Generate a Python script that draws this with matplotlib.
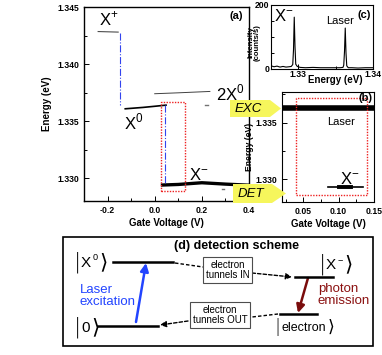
import matplotlib
matplotlib.use('Agg')
import matplotlib.pyplot as plt
from matplotlib.patches import Polygon, Rectangle, FancyArrowPatch
from matplotlib.ticker import MultipleLocator

plt.rcParams['font.family'] = ['Liberation Sans', 'DejaVu Sans']
plt.rcParams['mathtext.fontset'] = 'custom'
plt.rcParams['mathtext.rm'] = 'Liberation Sans'

# panel (a): gate voltage sweep, lines
xplus_v = [-0.24, -0.155]
xplus_e = [1.34285, 1.34280]
x0_v = [-0.125, -0.05, 0.0, 0.048]
x0_e = [1.33608, 1.33620, 1.33630, 1.33640]
xx_v = [0.0, 0.10, 0.234]
xx_e = [1.33740, 1.33748, 1.33760]
xminus_v = [0.033, 0.10, 0.20, 0.30, 0.405]
xminus_e = [1.32940, 1.32945, 1.32960, 1.32948, 1.32938]
step1_v = [-0.146, -0.146]
step1_e = [1.3427, 1.3364]
step2_v = [0.045, 0.045]
step2_e = [1.3364, 1.3296]
box_a_v = [0.026, 0.127]
box_a_e = [1.3289, 1.3367]
stray_v = [[0.215, 0.225], [0.285, 0.295]]
stray_e = [[1.33645, 1.33645], [1.32905, 1.32905]]

# panel (b): zoom on the detection window
laser_b_v = [0.02, 0.15]
laser_b_e = [1.3363, 1.3363]
xm_b_v = [0.085, 0.135]
xm_b_e = [1.3293, 1.3293]
xm_b_thick_v = [0.100, 0.118]
box_b_v = [0.040, 0.140]
box_b_e = [1.3286, 1.3372]

# panel (c): spectrum
spec_e = [1.3264, 1.3268, 1.3272, 1.3276, 1.3280, 1.3284, 1.3288, 1.3291, 1.3293,
          1.3294, 1.3295, 1.3296, 1.3297, 1.3299, 1.3303, 1.3310, 1.3320, 1.3330,
          1.3340, 1.3350, 1.3356, 1.3360, 1.3361, 1.3362, 1.3363, 1.3364, 1.3365,
          1.3367, 1.3372, 1.3380, 1.3390, 1.3400]
spec_i = [10, 7, 9, 6, 8, 6, 7, 8, 14, 60, 162, 70, 15, 8, 5, 4, 5, 4, 4, 4, 4, 5,
          12, 55, 128, 50, 10, 4, 4, 3, 4, 4]

fig = plt.figure(figsize=(3.82, 3.55), dpi=100)

tick_kw = dict(direction='in', labelsize=6.2, width=0.7)

# ---------- (a)
ax = fig.add_axes([84/382, 1-201/355, 165/382, 194/355])
ax.plot(xplus_v, xplus_e, color='0.3', lw=0.8)
ax.plot(x0_v, x0_e, color='k', lw=1.2)
ax.plot(xx_v, xx_e, color='0.25', lw=0.7)
ax.plot(xminus_v, xminus_e, color='k', lw=2.4)
for sv, se in zip(stray_v, stray_e):
    ax.plot(sv, se, color='0.45', lw=1.0)
ax.plot(step1_v, step1_e, color='#3344ee', lw=0.8, ls='-.')
ax.plot(step2_v, step2_e, color='#3344ee', lw=0.8, ls='-.')
ax.plot([box_a_v[0], box_a_v[1], box_a_v[1], box_a_v[0], box_a_v[0]],
        [box_a_e[0], box_a_e[0], box_a_e[1], box_a_e[1], box_a_e[0]],
        color='#ee2222', lw=1.0, ls=(0, (1, 1)))
ax.set_xlim(-0.3, 0.4)
ax.set_ylim(1.328, 1.345)
ax.xaxis.set_minor_locator(MultipleLocator(0.1))
ax.yaxis.set_minor_locator(MultipleLocator(0.0025))
ax.tick_params(which='both', **tick_kw)
ax.tick_params(which='minor', length=2)
ax.set_xticks([-0.2, 0.0, 0.2, 0.4])
ax.set_xticklabels(['-0.2', '0.0', '0.2', '0.4'], fontweight='bold')
ax.set_yticks([1.330, 1.335, 1.340, 1.345])
ax.set_yticklabels(['1.330', '1.335', '1.340', '1.345'], fontweight='bold')
ax.set_xlabel('Gate Voltage (V)', fontsize=7, fontweight='bold', labelpad=2)
ax.set_ylabel('Energy (eV)', fontsize=7, fontweight='bold', labelpad=4)
ax.text(-0.235, 1.3434, r'X$^{+}$', fontsize=12)
ax.text(-0.13, 1.3343, r'X$^{0}$', fontsize=12)
ax.text(0.26, 1.3368, r'2X$^{0}$', fontsize=12)
ax.text(0.145, 1.3298, r'X$^{-}$', fontsize=12)
ax.text(0.375, 1.3442, '(a)', fontsize=8, fontweight='bold', ha='right', va='center')
for s in ax.spines.values():
    s.set_linewidth(1.0)

# ---------- (c)
axc = fig.add_axes([271/382, 1-69/355, 102/382, 64/355])
axc.plot(spec_e, spec_i, color='k', lw=0.8)
axc.set_xlim(1.3264, 1.3400)
axc.set_ylim(0, 200)
axc.set_xticks([1.33, 1.34])
axc.set_xticklabels(['1.33', '1.34'], fontweight='bold')
axc.set_yticks([0, 200])
axc.set_yticklabels(['0', '200'], fontweight='bold')
axc.yaxis.set_minor_locator(MultipleLocator(50))
axc.xaxis.set_minor_locator(MultipleLocator(0.005))
axc.tick_params(which='both', **tick_kw)
axc.tick_params(which='minor', length=2)
axc.tick_params(axis='x', pad=1)
axc.tick_params(axis='y', pad=1)
axc.set_ylabel('Intensity\n(counts/s)', fontsize=5.6, fontweight='bold', linespacing=0.9)
axc.yaxis.set_label_coords(-0.10, 0.42)
axc.text(1.3350, -33, 'Energy (eV)', fontsize=7, fontweight='bold', ha='center', va='center')
axc.text(1.3268, 150, r'X$^{-}$', fontsize=12)
axc.text(1.3337, 142, 'Laser', fontsize=8)
axc.text(1.3397, 185, '(c)', fontsize=8, fontweight='bold', ha='right', va='top')

# ---------- (b)
axb = fig.add_axes([282/382, 1-202/355, 92/382, 110/355])
axb.plot(laser_b_v, laser_b_e, color='k', lw=4, solid_capstyle='butt')
axb.plot(xm_b_v, xm_b_e, color='k', lw=1.2)
axb.plot(xm_b_thick_v, xm_b_e, color='k', lw=2.8)
axb.plot([box_b_v[0], box_b_v[1], box_b_v[1], box_b_v[0], box_b_v[0]],
         [box_b_e[0], box_b_e[0], box_b_e[1], box_b_e[1], box_b_e[0]],
         color='#ee2222', lw=1.0, ls=(0, (1, 1)))
axb.set_xlim(0.02, 0.15)
axb.set_ylim(1.328, 1.3377)
axb.set_xticks([0.05, 0.10, 0.15])
axb.set_xticklabels(['0.05', '0.10', '0.15'], fontweight='bold')
axb.set_yticks([1.330, 1.335])
axb.set_yticklabels(['1.330', '1.335'], fontweight='bold')
axb.xaxis.set_minor_locator(MultipleLocator(0.025))
axb.yaxis.set_minor_locator(MultipleLocator(0.0025))
axb.tick_params(which='both', **tick_kw)
axb.tick_params(which='minor', length=2)
axb.set_xlabel('Gate Voltage (V)', fontsize=7, fontweight='bold', labelpad=2)
axb.set_ylabel('Energy (eV)', fontsize=6.2, fontweight='bold', labelpad=1)
axb.text(0.084, 1.3348, 'Laser', fontsize=8)
axb.text(0.102, 1.3296, r'X$^{-}$', fontsize=12)
axb.text(0.148, 1.3376, '(b)', fontsize=8, fontweight='bold', ha='right', va='top')

# ---------- overlay (yellow tags + scheme (d)), pixel coordinates
ov = fig.add_axes([0, 0, 1, 1], zorder=10)
ov.set_xlim(0, 382)
ov.set_ylim(355, 0)
ov.axis('off')
ov.patch.set_alpha(0)

yellow = '#f6f65c'
ov.add_patch(Polygon([[230, 100], [270, 100], [281, 108.5], [270, 117], [230, 117]],
                     closed=True, fc=yellow, ec='none'))
ov.text(235, 109, 'EXC', fontsize=9.5, style='italic', va='center')
ov.add_patch(Polygon([[233, 184], [272, 184], [286, 193.5], [272, 203], [233, 203]],
                     closed=True, fc=yellow, ec='none'))
ov.text(238, 194, 'DET', fontsize=9.5, style='italic', va='center')

# scheme frame
ov.add_patch(Rectangle((63, 237), 310, 109, fc='none', ec='k', lw=1.2))
ov.text(236, 246, '(d) detection scheme', fontsize=9, fontweight='bold', ha='center', va='center')

# levels
lev_x0 = [113, 173, 262]
lev_0 = [98, 158, 326]
lev_xm = [295, 333, 277]
lev_el = [280, 317, 314]
for lv in [lev_x0, lev_0, lev_xm, lev_el]:
    ov.plot([lv[0], lv[1]], [lv[2], lv[2]], color='k', lw=1.8)


def ket(xl, yc, label, w, size=11, sup=None):
    # tall bar, label, tall angle bracket
    ov.text(xl, yc, '|', fontsize=size * 1.4, ha='center', va='center',
            family='DejaVu Sans', fontweight='light')
    ov.text(xl + 4, yc + 1, label, fontsize=size, ha='left', va='center')
    end = xl + 4 + w
    if sup is not None:
        ov.text(end + 1.5, yc - 4, sup, fontsize=size * 0.6, ha='left', va='center')
        end += 7
    ov.text(end + 5, yc, '\u27e9', fontsize=size * 1.4, ha='center', va='center',
            family='DejaVu Sans')


ket(77, 262, 'X', 10, sup='0')
ket(77, 327, '0', 9)
ket(322, 264, 'X', 10, sup='\u2212')
ket(277, 327, 'electron', 45, size=9)

# laser excitation arrow
ov.add_patch(FancyArrowPatch((136, 322), (146, 263), arrowstyle='-|>', mutation_scale=12,
                             color='#2244ff', lw=1.8, shrinkA=0, shrinkB=0))
ov.text(80, 296, 'Laser\nexcitation', fontsize=9.5, color='#2244ff', va='center', linespacing=1.1)

# photon emission arrow
ov.add_patch(FancyArrowPatch((308, 278), (298, 313), arrowstyle='-|>', mutation_scale=12,
                             color='#7a0c0c', lw=1.8, shrinkA=0, shrinkB=0))
ov.text(318, 295, 'photon\nemission', fontsize=9.5, color='#8b1010', va='center', linespacing=1.1)

# tunnelling arrows
ov.plot([175, 203], [263, 267], color='k', lw=1.0, ls=(0, (2.5, 1.5)))
ov.add_patch(FancyArrowPatch((252, 273), (292, 277), arrowstyle='-|>', mutation_scale=9,
                             color='k', lw=1.0, ls=(0, (2.5, 1.5)), shrinkA=0, shrinkB=0))
ov.text(227.5, 270, 'electron\ntunnels IN', fontsize=7, ha='center', va='center', linespacing=1.1,
        bbox=dict(boxstyle='square,pad=0.25', fc='white', ec='0.3', lw=0.8))
ov.plot([278, 252], [314, 317], color='k', lw=1.0, ls=(0, (2.5, 1.5)))
ov.add_patch(FancyArrowPatch((188, 321), (160, 325), arrowstyle='-|>', mutation_scale=9,
                             color='k', lw=1.0, ls=(0, (2.5, 1.5)), shrinkA=0, shrinkB=0))
ov.text(220, 315, 'electron\ntunnels OUT', fontsize=7, ha='center', va='center', linespacing=1.1,
        bbox=dict(boxstyle='square,pad=0.25', fc='white', ec='0.3', lw=0.8))

fig.savefig('out.png', dpi=100)
